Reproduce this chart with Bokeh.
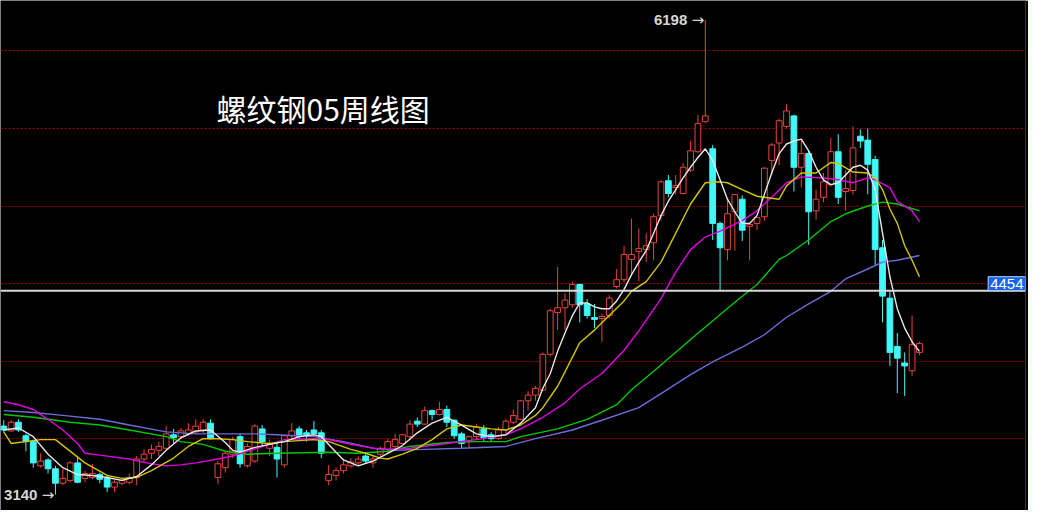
from bokeh.plotting import figure
from bokeh.models import ColumnDataSource, Span, Label, LinearAxis, FixedTicker, Range1d
from bokeh.embed import file_html
from bokeh.resources import INLINE

# ---------------- data (weekly candles) ----------------
opens = [3581, 3550, 3606, 3519, 3481, 3325, 3363, 3306, 3213, 3231,
         3344, 3244, 3250, 3269, 3244, 3188, 3213, 3219, 3250, 3369,
         3406, 3425, 3438, 3525, 3513, 3531, 3544, 3556, 3600, 3250,
         3313, 3400, 3513, 3325, 3356, 3563, 3438, 3444, 3331, 3519,
         3563, 3538, 3556, 3538, 3231, 3263, 3294, 3325, 3344, 3388,
         3344, 3400, 3431, 3450, 3469, 3513, 3613, 3594, 3681, 3656,
         3688, 3619, 3531, 3488, 3513, 3563, 3525, 3500, 3556, 3606,
         3625, 3744, 3781, 3813, 4044, 4313, 4344, 4363, 4494, 4369,
         4281, 4275, 4294, 4481, 4525, 4656, 4706, 4719, 4763, 4938,
         5163, 5119, 5081, 5231, 5350, 5544, 5369, 4888, 4719, 4963,
         5044, 4869, 4888, 4931, 5294, 5406, 5513, 5581, 5250, 5338,
         4969, 5056, 5138, 5350, 5094, 5100, 5450, 5425, 5300, 4731,
         4406, 4094, 3988, 3938, 4056]
closes = [3556, 3606, 3556, 3481, 3344, 3356, 3306, 3213, 3244, 3344,
          3219, 3275, 3275, 3238, 3188, 3219, 3231, 3250, 3369, 3400,
          3431, 3450, 3531, 3506, 3550, 3556, 3581, 3606, 3500, 3338,
          3406, 3494, 3338, 3450, 3581, 3481, 3469, 3369, 3519, 3550,
          3513, 3525, 3531, 3406, 3269, 3294, 3331, 3350, 3369, 3356,
          3369, 3438, 3481, 3494, 3525, 3594, 3594, 3681, 3656, 3688,
          3606, 3519, 3469, 3513, 3575, 3506, 3500, 3556, 3613, 3650,
          3744, 3781, 3825, 4044, 4325, 4344, 4394, 4494, 4363, 4294,
          4269, 4288, 4406, 4525, 4688, 4688, 4725, 4744, 4931, 5156,
          5081, 5131, 5250, 5356, 5531, 5581, 4888, 4731, 4950, 5075,
          4844, 4881, 4925, 5244, 5394, 5550, 5613, 5250, 5338, 4963,
          5044, 5156, 5350, 5056, 5113, 5375, 5419, 5269, 4719, 4419,
          4056, 4019, 3969, 4106, 4113]
highs = [3619, 3619, 3625, 3531, 3494, 3406, 3375, 3325, 3306, 3356,
         3388, 3294, 3338, 3281, 3263, 3231, 3244, 3275, 3388, 3431,
         3463, 3481, 3581, 3563, 3569, 3600, 3625, 3625, 3625, 3356,
         3419, 3513, 3531, 3469, 3594, 3588, 3494, 3469, 3525, 3600,
         3581, 3556, 3613, 3556, 3331, 3313, 3369, 3375, 3388, 3400,
         3388, 3450, 3500, 3531, 3531, 3619, 3638, 3706, 3688, 3738,
         3713, 3625, 3544, 3519, 3594, 3588, 3544, 3575, 3625, 3688,
         3750, 3806, 3838, 4056, 4338, 4606, 4438, 4513, 4500, 4400,
         4369, 4306, 4425, 4594, 4744, 4919, 4856, 4825, 4950, 5169,
         5200, 5200, 5275, 5419, 5588, 6198, 5394, 4900, 5044, 5075,
         5069, 4888, 4931, 5250, 5406, 5563, 5656, 5588, 5431, 5356,
         5106, 5213, 5438, 5463, 5231, 5513, 5494, 5500, 5325, 4781,
         4450, 4181, 4056, 4294, 4125]
lows = [3544, 3544, 3544, 3419, 3313, 3313, 3275, 3140, 3200, 3219,
        3213, 3219, 3238, 3213, 3156, 3156, 3200, 3206, 3200, 3344,
        3369, 3388, 3431, 3469, 3500, 3519, 3531, 3538, 3494, 3206,
        3281, 3375, 3313, 3313, 3344, 3456, 3388, 3250, 3313, 3500,
        3494, 3481, 3525, 3375, 3200, 3231, 3275, 3313, 3325, 3338,
        3313, 3375, 3406, 3431, 3463, 3494, 3575, 3588, 3619, 3650,
        3575, 3500, 3438, 3438, 3494, 3481, 3481, 3494, 3531, 3594,
        3619, 3681, 3744, 3806, 4031, 4200, 4200, 4344, 4250, 4275,
        4213, 4125, 4275, 4469, 4506, 4556, 4513, 4638, 4650, 4906,
        5056, 5075, 5075, 5219, 5344, 5538, 4781, 4450, 4650, 4713,
        4775, 4650, 4844, 4906, 5200, 5263, 5500, 5094, 5119, 4750,
        4913, 5025, 5125, 5013, 4969, 5075, 5375, 5075, 4619, 4250,
        3969, 3794, 3775, 3906, 4038]

# moving averages (candle index, value)
ma5_idx = [0, 2, 4, 6, 8, 10, 12, 14, 16, 18, 20, 22, 24, 26, 28, 30, 31, 32, 34, 36,
           38, 40, 42, 43, 44, 46, 48, 50, 52, 54, 56, 58, 60, 62, 64, 66, 68, 70, 72,
           73, 74, 75, 76, 77, 78, 79, 80, 81, 82, 83, 84, 85, 86, 87, 88, 89, 90, 91,
           92, 93, 94, 95, 96, 97, 98, 99, 100, 101, 102, 103, 104, 105, 106, 107, 108,
           109, 110, 111, 112, 113, 114, 115, 116, 117, 118, 119, 120, 121, 122, 123, 124]
ma5_val = [3556, 3569, 3513, 3400, 3313, 3269, 3263, 3250, 3231, 3256, 3331, 3425, 3506, 3550,
           3556, 3475, 3425, 3413, 3444, 3463, 3481, 3513, 3525, 3513, 3463, 3363, 3325, 3356,
           3406, 3456, 3538, 3600, 3638, 3588, 3531, 3513, 3525, 3600, 3700,
           3825, 3919, 4063, 4181, 4294, 4375, 4375, 4350, 4338, 4338, 4388, 4463, 4556, 4638,
           4713, 4825, 4938, 5031, 5106, 5181, 5250, 5313, 5369, 5294, 5169, 5044, 4963, 4888,
           4888, 4938, 5075, 5213, 5338, 5400, 5419, 5431, 5356, 5250, 5169, 5138, 5150, 5200,
           5250, 5263, 5231, 5106, 4825, 4544, 4338, 4213, 4125, 4063]
ma10_idx = [0, 1, 5, 7, 11, 14, 16, 18, 20, 23, 25, 27, 29, 31, 33, 36, 38, 42, 44, 47,
            49, 51, 52, 54, 56, 58, 60, 62, 64, 66, 68, 70, 72, 73, 75, 76, 78, 80, 82, 84,
            85, 87, 89, 91, 93, 95, 97, 98, 100, 102, 104, 105, 106, 108, 110, 112, 113, 115,
            117, 118, 119, 120, 121, 122, 123, 124]
ma10_val = [3544, 3469, 3494, 3494, 3344, 3263, 3244, 3250, 3294, 3375, 3450, 3500, 3500, 3494,
            3481, 3469, 3481, 3494, 3481, 3431, 3406, 3375, 3369, 3400, 3438, 3494, 3563, 3588,
            3575, 3563, 3556, 3588, 3650, 3700, 3838, 3931, 4119, 4200, 4294, 4388, 4450, 4513,
            4638, 4825, 5013, 5150, 5156, 5150, 5106, 5063, 5050, 5044, 5130, 5213, 5213, 5281,
            5275, 5219, 5213, 5181, 5106, 4981, 4888, 4744, 4650, 4544]
ma20_idx = [0, 2, 4, 6, 8, 10, 11, 13, 17, 20, 22, 24, 26, 29, 31, 33, 36, 38, 42, 44,
            47, 51, 55, 60, 64, 68, 70, 73, 76, 78, 81, 84, 86, 89, 91, 93, 95, 97, 100, 102,
            104, 106, 108, 111, 113, 115, 117, 118, 120, 121, 123, 124]
ma20_val = [3738, 3719, 3688, 3625, 3556, 3469, 3406, 3394, 3369, 3338, 3325, 3331, 3344, 3369,
            3388, 3419, 3463, 3494, 3500, 3494, 3463, 3431, 3438, 3469, 3494, 3525, 3563, 3638,
            3731, 3820, 3920, 4070, 4195, 4403, 4575, 4719, 4800, 4838, 4906, 4969, 5056, 5150,
            5188, 5181, 5169, 5150, 5181, 5169, 5119, 5031, 4969, 4900]
ma40_idx = [0, 4, 9, 13, 17, 22, 24, 27, 30, 33, 37, 44, 48, 52, 55, 60, 64, 68, 70, 75,
            79, 83, 85, 87, 89, 93, 99, 102, 105, 106, 109, 112, 114, 117, 119, 121, 124]
ma40_val = [3656, 3638, 3606, 3588, 3556, 3513, 3481, 3463, 3419, 3400, 3406, 3413, 3406, 3419,
            3450, 3475, 3481, 3481, 3513, 3563, 3625, 3719, 3815, 3895, 3975, 4140, 4380, 4494,
            4656, 4681, 4781, 4900, 4950, 5000, 5025, 5013, 4969]
ma60_idx = [0, 4, 8, 13, 17, 22, 26, 30, 34, 37, 42, 46, 50, 53, 57, 62, 68, 72, 77, 81,
            86, 89, 93, 96, 100, 103, 106, 109, 112, 114, 117, 119, 121, 124]
ma60_val = [3681, 3669, 3650, 3625, 3588, 3544, 3531, 3531, 3531, 3525, 3513, 3481, 3438, 3425,
            3431, 3438, 3450, 3500, 3556, 3619, 3700, 3790, 3913, 3995, 4090, 4170, 4283, 4369,
            4450, 4531, 4594, 4638, 4650, 4681]

title_text = "螺纹钢05周线图"
last_price = 4454
grid_levels = [3500, 4000, 4500, 5000, 5500, 6000]

# ---------------- styling ----------------
RED = "#e8453c"
CYAN = "#3ff8f8"
BG = "#000000"

n = len(opens)
up = [closes[i] >= opens[i] for i in range(n)]


def subset(flag):
    ids = [i for i in range(n) if up[i] == flag]
    return ColumnDataSource(dict(
        x=ids,
        top=[max(opens[i], closes[i]) for i in ids],
        bottom=[min(opens[i], closes[i]) for i in ids],
        high=[highs[i] for i in ids],
        low=[lows[i] for i in ids],
    ))


src_up = subset(True)
src_dn = subset(False)

p = figure(width=1028, height=510,
           x_range=Range1d(-0.44, 138.36), y_range=Range1d(3037, 6325),
           output_backend="svg", toolbar_location=None,
           background_fill_color=BG, border_fill_color=BG,
           outline_line_color=None,
           min_border_left=0, min_border_right=3, min_border_top=0, min_border_bottom=0)
p.xaxis.visible = False
p.yaxis.visible = False
p.xgrid.visible = False
p.ygrid.ticker = FixedTicker(ticks=grid_levels)
p.ygrid.grid_line_color = "#a00000"
p.ygrid.grid_line_dash = "2 2"
p.ygrid.grid_line_width = 1

rax = LinearAxis(ticker=FixedTicker(ticks=[]), axis_line_color="#b00000", axis_line_width=1,
                 major_tick_line_color=None, minor_tick_line_color=None,
                 major_tick_out=0, major_tick_in=0, minor_tick_out=0, minor_tick_in=0,
                 major_label_text_font_size="0px", major_label_standoff=0)
p.add_layout(rax, "right")

# candles
W = 0.78
p.segment(x0="x", y0="high", x1="x", y1="low", source=src_up, line_color=RED, line_width=1)
p.vbar(x="x", width=W, top="top", bottom="bottom", source=src_up,
       fill_color=BG, line_color=RED, line_width=1)
p.segment(x0="x", y0="high", x1="x", y1="low", source=src_dn, line_color=CYAN, line_width=1)
p.vbar(x="x", width=W, top="top", bottom="bottom", source=src_dn,
       fill_color=CYAN, line_color=CYAN, line_width=1)

# moving averages
p.line(ma60_idx, ma60_val, line_color="#6c6cd8", line_width=1.4)
p.line(ma40_idx, ma40_val, line_color="#00c800", line_width=1.4)
p.line(ma20_idx, ma20_val, line_color="#e000e0", line_width=1.4)
p.line(ma10_idx, ma10_val, line_color="#d2c400", line_width=1.4)
p.line(ma5_idx, ma5_val, line_color="#e8e8e8", line_width=1.4)

# last price line and tag
p.add_layout(Span(location=last_price, dimension="width", line_color="#d8d8d8", line_width=2))
p.add_layout(Label(x=133.3, y=last_price, text=str(last_price),
                   text_color="white", text_font="Liberation Sans", text_font_size="15px",
                   text_align="left", text_baseline="bottom",
                   background_fill_color="#1763ec", border_line_color="#c0d4ff",
                   border_line_width=1, padding=2))

# extreme annotations
imax = highs.index(max(highs))
imin = lows.index(min(lows))
for i, yv in ((imax, highs[imax]), (imin, lows[imin])):
    p.add_layout(Label(x=i, y=yv, text="→", text_color="#d6d6d6",
                       text_font="DejaVu Sans", text_font_size="15px",
                       text_align="right", text_baseline="middle", x_offset=-1))
    p.add_layout(Label(x=i, y=yv, text=str(yv), text_color="#d6d6d6",
                       text_font="Liberation Sans", text_font_style="bold",
                       text_font_size="15px", text_align="right", text_baseline="middle",
                       x_offset=-18))

# title text
p.add_layout(Label(x=216, y=403, x_units="screen", y_units="screen", text=title_text,
                   text_color="white", text_font="Noto Sans CJK SC", text_font_size="30px",
                   text_baseline="middle", text_align="left"))

open("out.html", "w").write(file_html(p, INLINE))
